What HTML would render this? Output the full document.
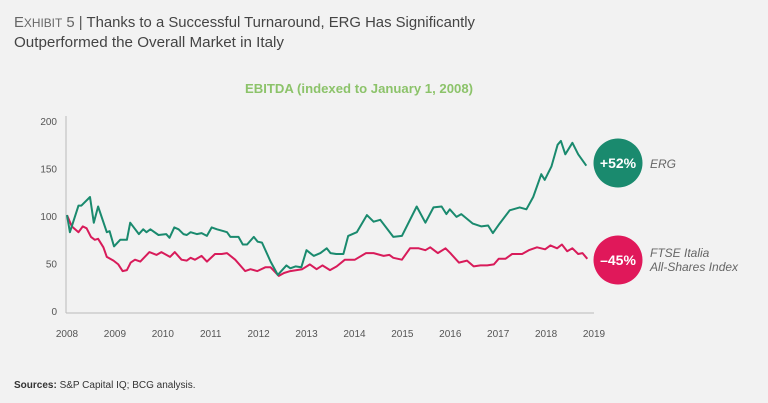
<!DOCTYPE html>
<html><head><meta charset="utf-8"><style>
html,body{margin:0;padding:0;background:#f2f2f2;}
svg{display:block;font-family:"Liberation Sans",sans-serif;}
</style></head><body>
<svg width="768" height="403" viewBox="0 0 768 403">
<rect width="768" height="403" fill="#f2f2f2"/>
<text x="14" y="27" font-size="15" fill="#555" textLength="461" lengthAdjust="spacingAndGlyphs"><tspan fill="#666">E<tspan font-size="12">XHIBIT</tspan> 5</tspan> | <tspan fill="#444">Thanks to a Successful Turnaround, ERG Has Significantly</tspan></text>
<text x="14" y="47" font-size="15" fill="#444" textLength="270" lengthAdjust="spacingAndGlyphs">Outperformed the Overall Market in Italy</text>
<text x="245" y="93" font-size="13" font-weight="bold" fill="#8cc36a" textLength="228" lengthAdjust="spacingAndGlyphs">EBITDA (indexed to January 1, 2008)</text>
<g id="axes"></g>
<g id="series"></g>
<circle cx="618" cy="163" r="24.5" fill="#1a8a6e"/>
<text x="618" y="168" font-size="14" font-weight="bold" fill="#fff" text-anchor="middle">+52%</text>
<text x="650" y="168" font-size="12" font-style="italic" fill="#666">ERG</text>
<circle cx="618" cy="260" r="24.5" fill="#e0185a"/>
<text x="618" y="265" font-size="14" font-weight="bold" fill="#fff" text-anchor="middle">–45%</text>
<text x="650" y="257" font-size="12" font-style="italic" fill="#666">FTSE Italia</text>
<text x="650" y="271" font-size="12" font-style="italic" fill="#666">All-Shares Index</text>
<text x="14" y="388" font-size="10" fill="#333"><tspan font-weight="bold">Sources:</tspan> S&amp;P Capital IQ; BCG analysis.</text>
</svg>
<script>
const yTicks=[0,50,100,150,200];
const xTicks=[2008,2009,2010,2011,2012,2013,2014,2015,2016,2017,2018,2019];
const ergYears=[2008,2008.06,2008.24,2008.3,2008.48,2008.56,2008.65,2008.83,2008.89,2008.98,2009.11,2009.25,2009.32,2009.5,2009.59,2009.66,2009.74,2009.91,2010.07,2010.14,2010.24,2010.33,2010.43,2010.5,2010.58,2010.71,2010.81,2010.92,2011.02,2011.13,2011.27,2011.34,2011.41,2011.58,2011.67,2011.76,2011.9,2011.98,2012.07,2012.25,2012.4,2012.58,2012.66,2012.77,2012.89,2013,2013.15,2013.29,2013.42,2013.5,2013.62,2013.77,2013.87,2014.05,2014.26,2014.4,2014.54,2014.81,2014.99,2015.3,2015.48,2015.65,2015.82,2015.92,2015.99,2016.13,2016.23,2016.47,2016.65,2016.79,2016.89,2017.03,2017.24,2017.45,2017.59,2017.73,2017.9,2017.97,2018.11,2018.24,2018.31,2018.4,2018.55,2018.67,2018.84];
const ergValues=[101,83,111,111,120,93,110,83,84,68,75,75,93,81,86,83,86,80,81,77,88,86,81,80,83,81,82,79,88,86,84,83,78,78,70,70,78,73,72,52,38,48,45,47,46,64,58,61,66,61,60,60,79,83,101,94,96,78,79,110,93,109,110,102,107,99,102,92,89,90,82,92,106,109,107,120,144,138,152,175,179,165,177,165,153];
const ftseYears=[2008,2008.1,2008.24,2008.33,2008.41,2008.5,2008.58,2008.65,2008.76,2008.83,2008.97,2009.07,2009.16,2009.25,2009.33,2009.42,2009.53,2009.72,2009.87,2009.97,2010.15,2010.25,2010.39,2010.5,2010.58,2010.67,2010.81,2010.92,2011.09,2011.23,2011.34,2011.51,2011.72,2011.83,2011.97,2012.14,2012.25,2012.42,2012.53,2012.66,2012.91,2013.07,2013.21,2013.33,2013.49,2013.63,2013.8,2014.01,2014.24,2014.4,2014.61,2014.73,2014.81,2014.99,2015.16,2015.34,2015.48,2015.58,2015.74,2015.9,2016,2016.18,2016.35,2016.49,2016.63,2016.77,2016.91,2017.01,2017.15,2017.29,2017.5,2017.64,2017.81,2017.98,2018.09,2018.23,2018.33,2018.44,2018.55,2018.67,2018.76,2018.86];
const ftseValues=[101,89,83,89,87,78,75,76,67,57,53,49,42,43,51,54,52,62,59,62,57,62,54,53,56,54,58,52,60,60,61,54,42,44,42,46,46,37,40,42,44,49,44,48,43,47,54,54,61,61,58,59,56,54,66,66,64,67,61,66,61,51,53,47,48,48,49,55,55,60,60,64,67,65,69,66,70,63,66,60,61,55];
const NS='http://www.w3.org/2000/svg';
const X0=67,X1=594,Y0=311,Y1=121;
function sx(y){return X0+(y-2008)*(X1-X0)/11;}
function sy(v){return Y0-v*(Y0-Y1)/200;}
function mk(tag,attrs,parent){const e=document.createElementNS(NS,tag);for(const k in attrs)e.setAttribute(k,attrs[k]);parent.appendChild(e);return e;}
const axes=document.getElementById('axes');
let l=mk('line',{x1:66,y1:116,x2:66,y2:313,stroke:'#bbb','stroke-width':1},axes);


l=mk('line',{x1:66,y1:313,x2:594,y2:313,stroke:'#bbb','stroke-width':1},axes);


yTicks.forEach(v=>{const t=mk('text',{x:57,y:sy(v)+4,'font-size':10,fill:'#555','text-anchor':'end'},axes);t.textContent=v;

});
xTicks.forEach(v=>{const t=mk('text',{x:sx(v),y:337,'font-size':10,fill:'#555','text-anchor':'middle'},axes);t.textContent=v;

});
const series=document.getElementById('series');
function line(xs,vs,color,name){const d=xs.map((x,i)=>(i?'L':'M')+sx(x).toFixed(1)+','+sy(vs[i]).toFixed(1)).join('');
const p=mk('path',{d:d,fill:'none',stroke:color,'stroke-width':2,'stroke-linejoin':'round'},series);

}
line(ftseYears,ftseValues,'#d81b5a','ftse-line');
line(ergYears,ergValues,'#1a8a6e','erg-line');
</script>
</body></html>
